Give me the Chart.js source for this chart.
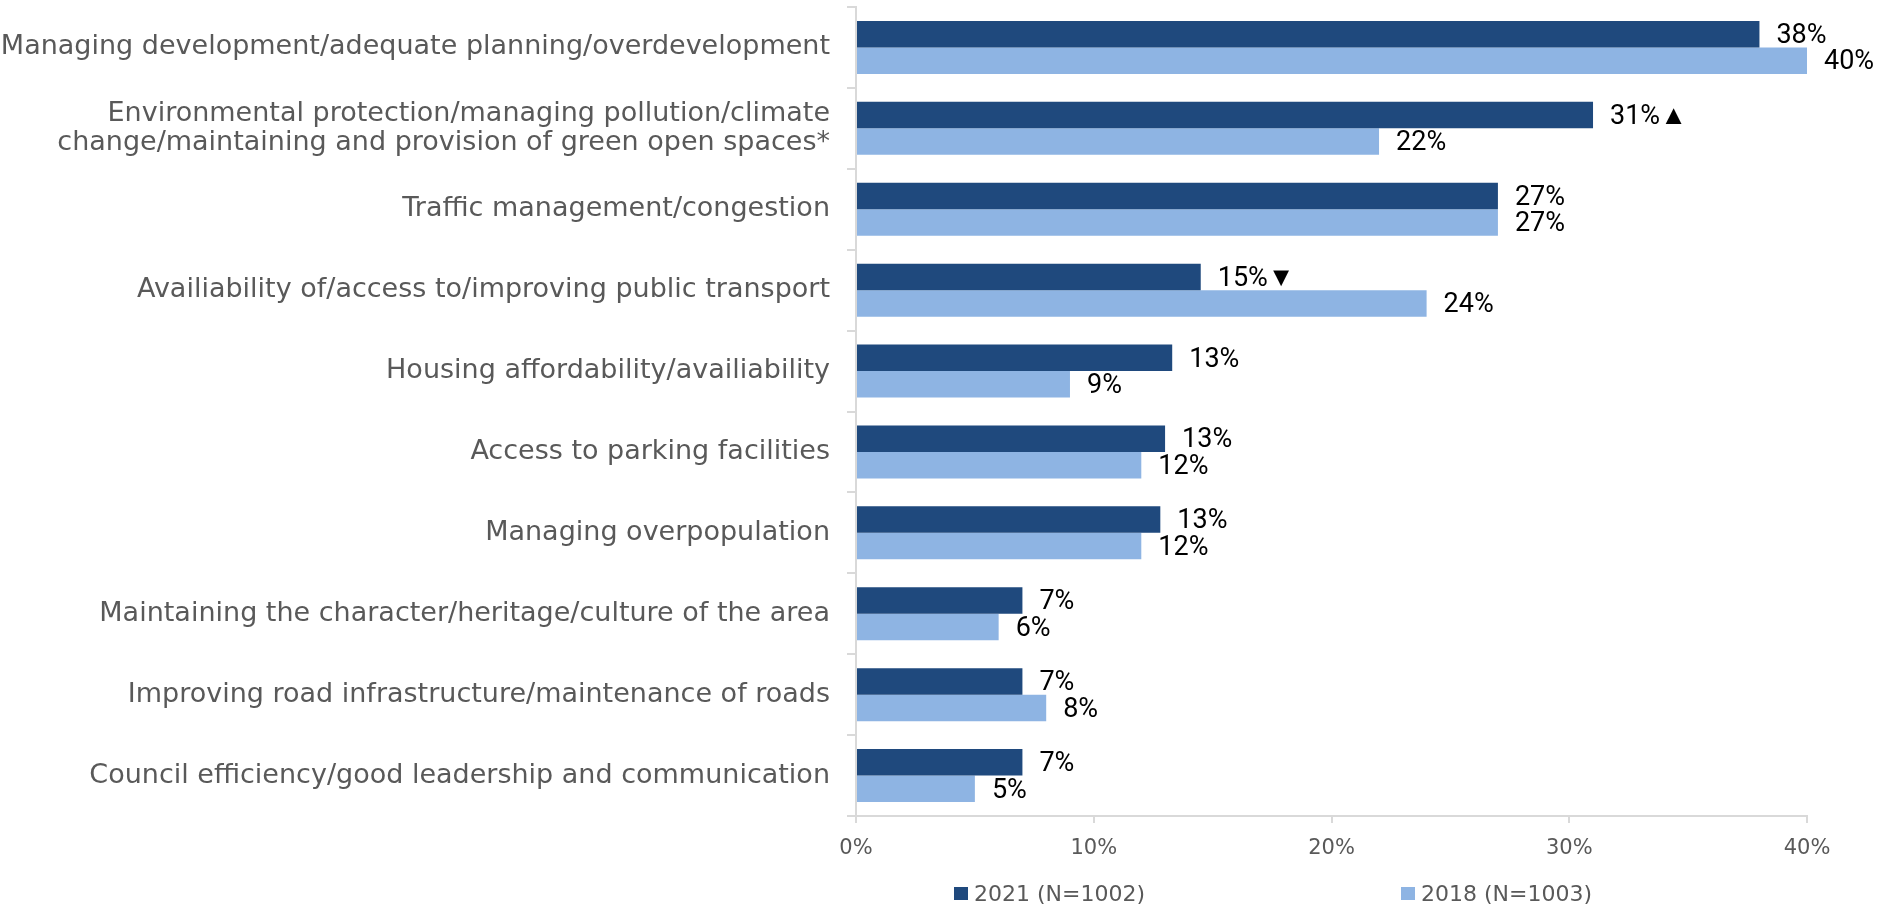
<!DOCTYPE html>
<html>
<head>
<meta charset="utf-8">
<script src="https://cdn.jsdelivr.net/npm/chart.js@4.4.1/dist/chart.umd.min.js"></script>
<style>
  html, body { margin: 0; padding: 0; background: #ffffff; }
  #wrap { position: relative; width: 1878px; height: 908px; }
</style>
</head>
<body>
<div id="wrap"><canvas id="c" width="1878" height="908"></canvas></div>
<script>
const categories = [
  "Managing development/adequate planning/overdevelopment",
  ["Environmental protection/managing pollution/climate", "change/maintaining and provision of green open spaces*"],
  "Traffic management/congestion",
  "Availiability of/access to/improving public transport",
  "Housing affordability/availiability",
  "Access to parking facilities",
  "Managing overpopulation",
  "Maintaining the character/heritage/culture of the area",
  "Improving road infrastructure/maintenance of roads",
  "Council efficiency/good leadership and communication"
];
const seriesNames = ["2021 (N=1002)", "2018 (N=1003)"];
const values2021 = [38, 31, 27, 14.5, 13.3, 13, 12.8, 7, 7, 7];
const values2018 = [40, 22, 27, 24, 9, 12, 12, 6, 8, 5];
const labels2021 = ["38%", "31%\u25B2", "27%", "15%\u25BC", "13%", "13%", "13%", "7%", "7%", "7%"];
const labels2018 = ["40%", "22%", "27%", "24%", "9%", "12%", "12%", "6%", "8%", "5%"];
const xTicks = [0, 10, 20, 30, 40];

const DARK = "#1F497D";
const LIGHT = "#8EB4E3";
const GREY_TEXT = "#595959";
const AXIS = "#D9D9D9";
const FONT = "'DejaVu Sans', sans-serif";
const LABEL_FONT = "Roboto, 'Liberation Sans', sans-serif";

const valueLabels = [labels2021, labels2018];

const dataLabelPlugin = {
  id: "dataLabelPlugin",
  afterDatasetsDraw(chart) {
    const ctx = chart.ctx;
    ctx.save();
    ctx.font = "27px " + LABEL_FONT;
    ctx.fillStyle = "#000000";
    ctx.textAlign = "left";
    ctx.textBaseline = "middle";
    chart.data.datasets.forEach((ds, di) => {
      const meta = chart.getDatasetMeta(di);
      meta.data.forEach((bar, i) => {
        ctx.fillText(valueLabels[di][i], bar.x + 17, bar.y + 2);
      });
    });
    ctx.restore();
  }
};

const legendPlugin = {
  id: "customLegend",
  afterDraw(chart) {
    const ctx = chart.ctx;
    const area = chart.chartArea;
    const starts = [area.left + 98, area.left + 545];
    const cy = 894;
    ctx.save();
    ctx.font = "22px " + FONT;
    ctx.textAlign = "left";
    ctx.textBaseline = "middle";
    chart.data.datasets.forEach((ds, di) => {
      const x = starts[di];
      ctx.fillStyle = ds.backgroundColor;
      ctx.fillRect(x, cy - 7, 14, 13);
      ctx.fillStyle = GREY_TEXT;
      ctx.fillText(ds.label, x + 20, cy + 1);
    });
    ctx.restore();
  }
};

new Chart(document.getElementById("c"), {
  type: "bar",
  data: {
    labels: categories,
    datasets: [
      { label: seriesNames[0], data: values2021, backgroundColor: DARK },
      { label: seriesNames[1], data: values2018, backgroundColor: LIGHT }
    ]
  },
  options: {
    indexAxis: "y",
    responsive: false,
    animation: false,
    devicePixelRatio: 1,
    datasets: { bar: { categoryPercentage: 0.655, barPercentage: 1.0 } },
    layout: { padding: { top: 7, right: 71, bottom: 47, left: 0 } },
    plugins: {
      legend: { display: false },
      tooltip: { enabled: false },
      title: { display: false }
    },
    scales: {
      x: {
        type: "linear",
        min: 0,
        max: 40,
        afterBuildTicks: (scale) => { scale.ticks = xTicks.map(v => ({ value: v })); },
        afterFit: (scale) => { scale.height = 45; },
        grid: { drawOnChartArea: false, drawTicks: true, tickLength: 7, color: AXIS, lineWidth: 2 },
        border: { display: true, color: AXIS, width: 2 },
        ticks: {
          padding: 13,
          color: GREY_TEXT,
          font: { family: FONT, size: 21 },
          callback: (v) => v + "%"
        }
      },
      y: {
        type: "category",
        afterFit: (scale) => { scale.width = 856; scale.paddingTop = 0; scale.paddingBottom = 0; },
        grid: { drawOnChartArea: false, drawTicks: true, tickLength: 9, color: AXIS, lineWidth: 2, offset: true },
        border: { display: true, color: AXIS, width: 2 },
        ticks: {
          padding: 17,
          color: GREY_TEXT,
          autoSkip: false,
          font: { family: FONT, size: 27, lineHeight: 1.1 }
        }
      }
    }
  },
  plugins: [dataLabelPlugin, legendPlugin]
});
</script>
</body>
</html>
